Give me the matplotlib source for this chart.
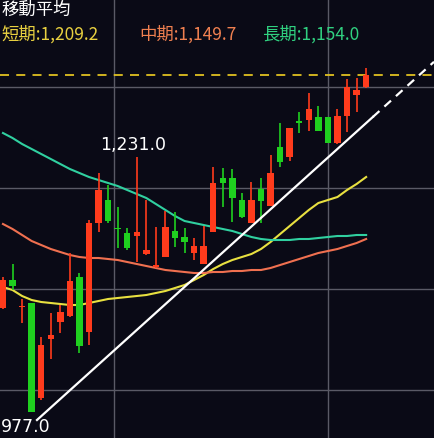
import matplotlib
matplotlib.use("Agg")
import matplotlib.pyplot as plt
import numpy as np

plt.rcParams['font.family'] = ['Noto Sans CJK JP', 'DejaVu Sans']

body_top = [1109,1109,1083.3,1085.7,1044,1054,1077.3,1108.3,1112.3,1165.7,1199,1189,1161.3,1155.7,1156.7,1139,1124,1161.7,1158.3,1152.3,1143,1143,1206.3,1211.3,1211.3,1189,1189,1200,1216.3,1241.7,1260.7,1267.3,1280,1271.7,1271.7,1273,1302.3,1299,1314]
body_bot = [1081,1103,1082,976.7,990.7,1049.7,1067.3,1073,1043,1057.3,1165.7,1168,1159.7,1140.7,1153,1135,1121.7,1132.3,1150.7,1147.3,1135.7,1125,1157.3,1206.3,1191.3,1171.7,1165.7,1188.3,1183,1226.7,1231.7,1266.3,1269,1258,1245.7,1246.3,1273,1294,1302.3]
highs = [1112,1125,1089.7,1085.7,1052.3,1075.7,1084,1135.7,1115.7,1169,1216.3,1204,1182.3,1160.7,1232.3,1189,1162.3,1178.3,1177.3,1160.7,1150.7,1163,1222.3,1221.3,1219.7,1195.7,1207.3,1210.7,1234,1265.7,1260.7,1277.3,1296.3,1283,1271.7,1280,1310,1310.7,1320.7]
lows = [1080,1099,1066,976.7,989,1029.7,1055.7,1072.3,1035.7,1044,1157.3,1165.7,1140.7,1139,1127.3,1134,1120.7,1131.7,1142.3,1135.7,1129,1125,1157.3,1182.3,1167.3,1170.7,1165.7,1165.7,1183,1221.7,1228.3,1255.7,1258,1258,1245.7,1245,1257.3,1277.3,1300.7]
up = [1,0,1,0,1,1,1,1,0,1,1,0,0,0,1,1,1,1,0,0,1,1,1,0,0,0,1,0,1,0,1,0,1,0,0,1,1,1,1]

ma_short = [1102,1099,1093,1089,1087,1086,1085,1084,1084,1086,1088,1090,1091,1092,1093,1094,1096,1098,1101,1104,1109,1114,1120,1125,1129,1132,1135,1140,1147,1155,1163,1171,1179,1186,1189,1192,1199,1205,1212]
ma_mid = [1165,1160,1154,1148,1144,1140,1137,1134,1132,1131,1131,1130,1129,1127,1125,1123,1121,1119,1118,1117,1116,1116,1117,1117,1118,1118,1119,1119,1121,1124,1127,1130,1133,1136,1138,1140,1143,1146,1150]
ma_long = [1256,1251,1245,1240,1235,1230,1225,1220,1216,1212,1209,1206,1203,1199,1195,1191,1185,1179,1173,1168,1166,1164,1162,1160,1158,1155,1152,1150,1149,1149,1149,1150,1150,1151,1152,1153,1153,1154,1154]

bg = '#0a0a16'
RED = '#ff3b1c'; GRN = '#1fd01f'
fig = plt.figure(figsize=(4.34, 4.38), dpi=100, facecolor=bg)
ax = fig.add_axes([0, 0, 1, 1], facecolor=bg)
ax.set_xlim(-0.31, 45.1)
ax.set_ylim(951, 1389)
ax.axis('off')

for yv in [1302, 1201, 1100, 999]:
    ax.axhline(yv, color='#5a5a66', lw=1, zorder=0)
for xv in [11.6, 34.0]:
    ax.axvline(xv, color='#5a5a66', lw=1, zorder=0)

x = np.arange(len(up))
for i in x:
    c = RED if up[i] else GRN
    ax.vlines(i, lows[i], highs[i], color=c, lw=1.2, zorder=3)
    h = max(body_top[i] - body_bot[i], 1.5)
    ax.bar(i, h, bottom=body_bot[i], width=0.68, color=c, zorder=3)

ax.plot(x, ma_short, color='#e8e040', lw=1.5, zorder=2)
ax.plot(x, ma_mid, color='#f07050', lw=1.5, zorder=2)
ax.plot(x, ma_long, color='#30d0a0', lw=1.5, zorder=2)

ax.axhline(1314, color='#e0c020', lw=1.3, ls=(0, (5, 4)), zorder=2)

tx = [3.56, 38.7, 45.1]
slope = (1272 - 969) / (tx[1] - tx[0])
ty = [969 + slope * (t - tx[0]) for t in tx]
ax.plot(tx[:2], ty[:2], color='white', lw=1.6, zorder=4)
ax.plot(tx[1:], ty[1:], color='white', lw=1.6, ls=(0, (4, 3)), zorder=4)

ax.text(13.6, 1244, '1,231.0', color='white', fontsize=12.5, ha='center', va='center', family=['DejaVu Sans'])
ax.text(2.4, 962, '977.0', color='white', fontsize=12.5, ha='center', va='center', family=['DejaVu Sans'])

fig.text(0.003, 0.977, '移動平均', color='white', fontsize=12.5, ha='left', va='center')
fig.text(0.003, 0.922, '短期:1,209.2', color='#e8d040', fontsize=12.5, ha='left', va='center')
fig.text(0.322, 0.922, '中期:1,149.7', color='#f08050', fontsize=12.5, ha='left', va='center')
fig.text(0.604, 0.922, '長期:1,154.0', color='#30d080', fontsize=12.5, ha='left', va='center')

fig.savefig('out.png', dpi=100, facecolor=bg)
